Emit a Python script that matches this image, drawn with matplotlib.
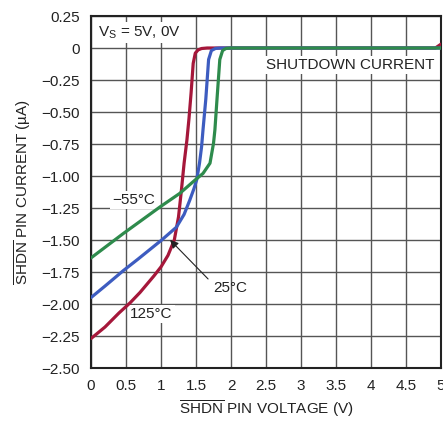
import matplotlib
matplotlib.use("Agg")
import matplotlib.pyplot as plt
from matplotlib import font_manager

fams = [f.name for f in font_manager.fontManager.ttflist]
main_font = "Liberation Sans Narrow" if "Liberation Sans Narrow" in fams else "Liberation Sans"
plt.rcParams['font.family'] = [main_font, 'DejaVu Sans']
plt.rcParams['mathtext.fontset'] = 'custom'
plt.rcParams['mathtext.rm'] = main_font
plt.rcParams['mathtext.it'] = main_font
plt.rcParams['mathtext.bf'] = main_font

# data
x_125 = [0, 0.2, 0.4, 0.56, 0.7, 0.9, 1.0, 1.1, 1.19, 1.25, 1.29, 1.33, 1.37, 1.40, 1.43, 1.46, 1.49, 1.53, 1.58, 1.66, 2.5, 3.0, 4.0, 4.8, 4.92, 5.0]
y_125 = [-2.27, -2.18, -2.07, -1.99, -1.91, -1.78, -1.71, -1.62, -1.50, -1.32, -1.12, -0.90, -0.72, -0.55, -0.35, -0.12, -0.04, -0.015, -0.004, 0, 0, 0, 0, 0, 0.0, 0.03]

x_25 = [0, 0.2, 0.46, 0.67, 1.01, 1.22, 1.33, 1.41, 1.47, 1.51, 1.55, 1.58, 1.60, 1.64, 1.68, 1.72, 1.78, 1.85, 5.0]
y_25 = [-1.95, -1.86, -1.74, -1.65, -1.50, -1.40, -1.30, -1.19, -1.10, -1.03, -0.90, -0.77, -0.64, -0.40, -0.09, -0.02, -0.003, 0, 0]

x_m55 = [0, 0.46, 0.99, 1.27, 1.49, 1.60, 1.70, 1.75, 1.77, 1.80, 1.84, 1.88, 1.93, 2.0, 5.0]
y_m55 = [-1.64, -1.45, -1.24, -1.135, -1.03, -0.98, -0.90, -0.745, -0.64, -0.40, -0.09, -0.02, -0.003, 0, 0]

x_ticks = [0, 0.5, 1, 1.5, 2, 2.5, 3, 3.5, 4, 4.5, 5]
x_labels = ['0', '0.5', '1', '1.5', '2', '2.5', '3', '3.5', '4', '4.5', '5']
y_ticks = [0.25, 0, -0.25, -0.5, -0.75, -1.0, -1.25, -1.5, -1.75, -2.0, -2.25, -2.5]
y_labels = ['0.25', '0', '\u22120.25', '\u22120.50', '\u22120.75', '\u22121.00', '\u22121.25',
            '\u22121.50', '\u22121.75', '\u22122.00', '\u22122.25', '\u22122.50']

red = '#a5173a'
blue = '#3d5cc0'
green = '#2e8b4c'

fig = plt.figure(figsize=(4.43, 4.21), dpi=100)
ax = fig.add_axes([91/443, 1 - 368/421, 350/443, 352/421])
ax.set_xlim(0, 5)
ax.set_ylim(-2.5, 0.25)
ax.set_xticks(x_ticks)
ax.set_xticklabels(x_labels)
ax.set_yticks(y_ticks)
ax.set_yticklabels(y_labels)
ax.tick_params(length=0, labelsize=11, pad=8, colors='#222222')
ax.grid(True, color='#555555', linewidth=1.0)
ax.set_axisbelow(True)
for s in ax.spines.values():
    s.set_linewidth(1.5)
    s.set_color('#222222')

ax.plot(x_125, y_125, color=red, lw=2.3, solid_capstyle='round', zorder=3)
ax.plot(x_25, y_25, color=blue, lw=2.3, solid_capstyle='round', zorder=3)
ax.plot(x_m55, y_m55, color=green, lw=2.3, solid_capstyle='round', zorder=3)

bb = dict(facecolor='white', edgecolor='none', pad=1.5)
ax.text(0.1, 0.12, r'V$_\mathregular{S}$ = 5V, 0V', fontsize=11, va='center', ha='left', bbox=bb, zorder=2.5, color='#222222')
ax.text(4.9, -0.135, 'SHUTDOWN CURRENT', fontsize=11, va='center', ha='right', bbox=bb, zorder=2.5, color='#222222')
ax.text(0.3, -1.19, '\u221255\u00b0C', fontsize=11, va='center', ha='left', bbox=bb, zorder=2.5, color='#222222')
ax.text(0.56, -2.08, '125\u00b0C', fontsize=11, va='center', ha='left', bbox=bb, zorder=2.5, color='#222222')
ax.annotate('25\u00b0C', xy=(1.13, -1.5), xytext=(1.74, -1.875), fontsize=11, va='center', ha='left',
            color='#222222', zorder=5,
            arrowprops=dict(arrowstyle='-|>', color='#222222', lw=0.8, mutation_scale=12,
                            shrinkA=2, shrinkB=0, relpos=(0, 0.8)))

ax.set_xlabel(r'$\overline{\mathregular{SHDN}}$ PIN VOLTAGE (V)', fontsize=11, labelpad=4, color='#222222')
ax.set_ylabel(r'$\overline{\mathregular{SHDN}}$ PIN CURRENT (' + '\u00b5A)', fontsize=11, labelpad=6, color='#222222')

fig.savefig('out.png', dpi=100)
